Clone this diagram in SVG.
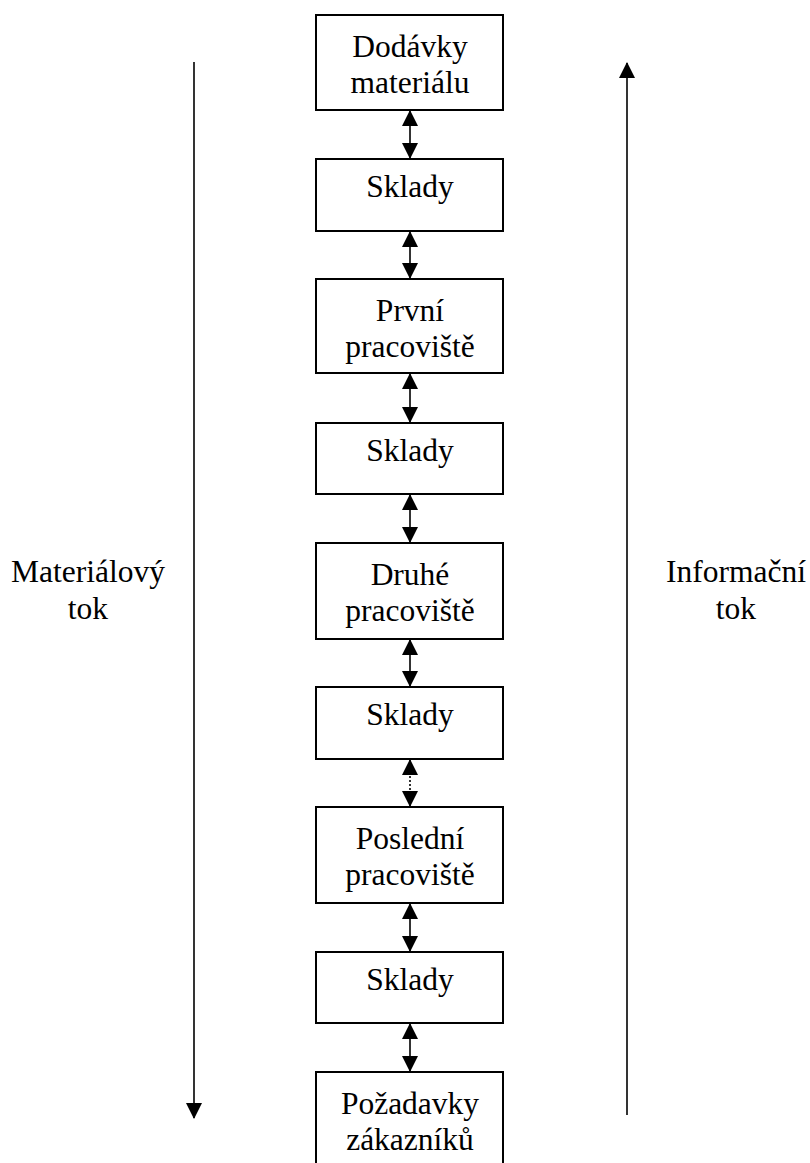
<svg xmlns="http://www.w3.org/2000/svg" width="810" height="1163" viewBox="0 0 810 1163">
  <style>
    .box { fill: #fff; stroke: #000; stroke-width: 2; }
    .lbl { font-family: "Liberation Serif", "Times New Roman", serif; font-size: 31.5px; fill: #000; text-anchor: middle; }
    .link { stroke: #000; stroke-width: 1.6; fill: none; }
    .dot { stroke-dasharray: 2 2; }
  </style>
  <defs>
    <marker id="head" viewBox="0 0 16 16" refX="15" refY="8" markerWidth="16" markerHeight="16" markerUnits="userSpaceOnUse" orient="auto-start-reverse">
      <path d="M0,0 L16,8 L0,16 Z" fill="#000"/>
    </marker>
  </defs>
  <rect width="810" height="1163" fill="#fff"/>

  <g id="connectors">
    <line class="link" x1="410" y1="111" x2="410" y2="158" marker-start="url(#head)" marker-end="url(#head)"/>
    <line class="link" x1="410" y1="232" x2="410" y2="278" marker-start="url(#head)" marker-end="url(#head)"/>
    <line class="link" x1="410" y1="374" x2="410" y2="422" marker-start="url(#head)" marker-end="url(#head)"/>
    <line class="link" x1="410" y1="495" x2="410" y2="542" marker-start="url(#head)" marker-end="url(#head)"/>
    <line class="link" x1="410" y1="640" x2="410" y2="686" marker-start="url(#head)" marker-end="url(#head)"/>
    <line class="link dot" x1="410" y1="760" x2="410" y2="806" marker-start="url(#head)" marker-end="url(#head)"/>
    <line class="link" x1="410" y1="904" x2="410" y2="951" marker-start="url(#head)" marker-end="url(#head)"/>
    <line class="link" x1="410" y1="1024" x2="410" y2="1071" marker-start="url(#head)" marker-end="url(#head)"/>
    <!-- material flow (down) and information flow (up) -->
    <line class="link" x1="194" y1="62" x2="194" y2="1118" marker-end="url(#head)"/>
    <line class="link" x1="627" y1="1115" x2="627" y2="63" marker-end="url(#head)"/>
  </g>

  <g id="dodavky">
    <rect class="box" x="316" y="15" width="187" height="95"/>
    <text class="lbl" x="410" y="57">Dodávky</text>
    <text class="lbl" x="410" y="93">materiálu</text>
  </g>
  <g id="sklady1">
    <rect class="box" x="316" y="159" width="187" height="72"/>
    <text class="lbl" x="410" y="197">Sklady</text>
  </g>
  <g id="prvni">
    <rect class="box" x="316" y="279" width="187" height="94"/>
    <text class="lbl" x="410" y="321">První</text>
    <text class="lbl" x="410" y="357">pracoviště</text>
  </g>
  <g id="sklady2">
    <rect class="box" x="316" y="423" width="187" height="71"/>
    <text class="lbl" x="410" y="461">Sklady</text>
  </g>
  <g id="druhe">
    <rect class="box" x="316" y="543" width="187" height="96"/>
    <text class="lbl" x="410" y="585">Druhé</text>
    <text class="lbl" x="410" y="621">pracoviště</text>
  </g>
  <g id="sklady3">
    <rect class="box" x="316" y="687" width="187" height="72"/>
    <text class="lbl" x="410" y="725">Sklady</text>
  </g>
  <g id="posledni">
    <rect class="box" x="316" y="807" width="187" height="96"/>
    <text class="lbl" x="410" y="849">Poslední</text>
    <text class="lbl" x="410" y="885">pracoviště</text>
  </g>
  <g id="sklady4">
    <rect class="box" x="316" y="952" width="187" height="71"/>
    <text class="lbl" x="410" y="990">Sklady</text>
  </g>
  <g id="pozadavky">
    <rect class="box" x="316" y="1072" width="187" height="96"/>
    <text class="lbl" x="410" y="1114">Požadavky</text>
    <text class="lbl" x="410" y="1150">zákazníků</text>
  </g>

  <g id="material-flow">
    <text class="lbl" x="88" y="582">Materiálový</text>
    <text class="lbl" x="88" y="619">tok</text>
  </g>
  <g id="info-flow">
    <text class="lbl" x="736" y="582">Informační</text>
    <text class="lbl" x="736" y="619">tok</text>
  </g>
</svg>
